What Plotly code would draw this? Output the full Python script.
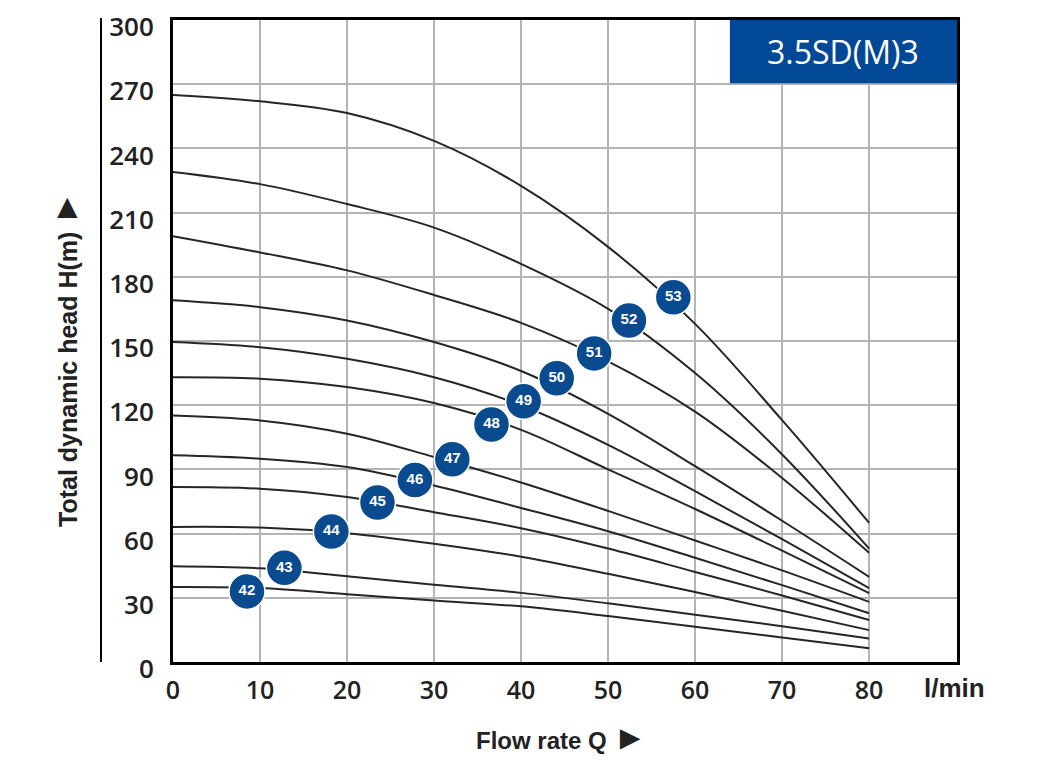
import plotly.graph_objects as go

# Flow rate grid (l/min) at which curve heads were read
flow_q = [0, 10, 20, 30, 40, 50, 60, 70, 80]

# Head (m) for each pump curve, read at flow_q
head_42 = [35.1, 34.6, 31.7, 28.7, 26.0, 21.5, 16.5, 11.5, 6.4]
head_43 = [44.8, 43.8, 40.1, 36.1, 32.3, 27.4, 22.1, 16.7, 11.0]
head_44 = [63.1, 62.8, 60.2, 55.3, 49.2, 41.2, 32.7, 23.9, 14.9]
head_45 = [81.8, 81.0, 77.1, 70.0, 62.5, 53.0, 42.1, 31.1, 19.6]
head_46 = [96.6, 95.0, 91.1, 82.5, 72.0, 61.1, 48.7, 35.9, 22.8]
head_47 = [115.2, 112.9, 106.7, 95.8, 83.9, 70.6, 56.8, 42.8, 28.1]
head_48 = [133.1, 132.4, 128.5, 121.0, 108.5, 90.0, 71.5, 52.0, 32.2]
head_49 = [149.5, 147.1, 141.7, 133.1, 120.0, 101.5, 79.8, 57.4, 34.5]
head_50 = [169.0, 165.8, 159.6, 149.5, 136.0, 116.0, 91.5, 66.0, 39.8]
head_51 = [199.0, 191.4, 183.0, 171.5, 158.5, 140.5, 117.0, 86.0, 51.0]
head_52 = [229.0, 223.3, 214.0, 203.0, 186.0, 165.0, 135.0, 97.0, 53.0]
head_53 = [265.0, 262.0, 256.5, 243.5, 222.5, 194.0, 158.0, 113.0, 65.0]

curves = [head_42, head_43, head_44, head_45, head_46, head_47,
          head_48, head_49, head_50, head_51, head_52, head_53]

# Model badges
badge_labels = ["42", "43", "44", "45", "46", "47", "48", "49", "50", "51", "52", "53"]
badge_q = [8.5, 12.8, 18.2, 23.5, 27.8, 32.1, 36.6, 40.3, 44.1, 48.4, 52.4, 57.5]
badge_h = [33.0, 44.0, 61.0, 74.5, 85.0, 94.7, 111.0, 121.8, 132.6, 144.2, 159.6, 170.4]

x_ticks = [0, 10, 20, 30, 40, 50, 60, 70, 80]
y_ticks = [0, 30, 60, 90, 120, 150, 180, 210, 240, 270, 300]

title_text = "3.5SD(M)3"

fig = go.Figure()
for h in curves:
    fig.add_trace(go.Scatter(
        x=flow_q, y=h, mode="lines",
        line=dict(color="#262626", width=2, shape="spline", smoothing=1.0),
        hoverinfo="skip", showlegend=False))

fig.add_trace(go.Scatter(
    x=badge_q, y=badge_h, mode="markers+text", text=badge_labels,
    textposition="middle center",
    textfont=dict(color="white", size=15, family="Liberation Sans", weight="bold"),
    marker=dict(size=36, color="#0a4a8e", line=dict(color="white", width=1.5)),
    showlegend=False, cliponaxis=False))

# page body has an 8px margin; place the figure so the plot lands where intended
OFF = 8
W, H = 1037 - OFF, 760 - OFF
ml, mt = 173 - OFF, 20 - OFF
pw, ph = 784, 642
mr, mb = W - ml - pw, H - mt - ph

def px2paper_x(p):
    return (p - OFF - ml) / pw

def px2paper_y(p):
    return (mt + ph - (p - OFF)) / ph

x_font = dict(family="Open Sans", size=25, color="#222222", weight=600)
y_font = dict(family="Open Sans", size=26, color="#222222", weight=600)

fig.update_layout(
    width=W, height=H, autosize=False,
    margin=dict(l=ml, r=mr, t=mt, b=mb, autoexpand=False),
    paper_bgcolor="white", plot_bgcolor="white",
    xaxis=dict(range=[0, 90.1], tickvals=x_ticks, ticktext=[str(v) for v in x_ticks],
               showgrid=True, gridcolor="#b4b4b4", gridwidth=1.5,
               showline=True, linecolor="black", linewidth=3, mirror=True,
               zeroline=False, ticks="", tickfont=x_font, ticklabelstandoff=4,
               ticklabeloverflow="allow", automargin=False),
    yaxis=dict(range=[0, 300], tickvals=y_ticks, ticktext=[str(v) for v in y_ticks],
               showgrid=True, gridcolor="#b4b4b4", gridwidth=1.5,
               showline=True, linecolor="black", linewidth=3, mirror=True,
               zeroline=False, ticks="", tickfont=y_font, ticklabelstandoff=11,
               ticklabelshift=7,
               ticklabeloverflow="allow", automargin=False),
    shapes=[
        dict(type="rect", xref="x", yref="y", x0=64, x1=90.1, y0=270.5, y1=300,
             fillcolor="#014896", line=dict(width=0), layer="above"),
        dict(type="line", xref="paper", yref="paper",
             x0=px2paper_x(101), x1=px2paper_x(101), y0=0, y1=px2paper_y(18),
             line=dict(color="black", width=2)),
    ],
    annotations=[
        dict(text=title_text, xref="x", yref="y", x=77.05, y=285.5, showarrow=False,
             font=dict(family="Open Sans", size=32, color="white")),
        dict(text="l/min", xref="paper", yref="paper", x=px2paper_x(954), y=px2paper_y(688),
             showarrow=False, xanchor="center", yanchor="middle",
             font=dict(family="Liberation Sans", size=26, color="#222222", weight="bold")),
        dict(text="Flow rate Q <span style='font-size:34px'>►</span>",
             xref="paper", yref="paper",
             x=px2paper_x(561), y=px2paper_y(737), showarrow=False,
             xanchor="center", yanchor="middle",
             font=dict(family="Liberation Sans", size=24, color="#222222", weight="bold")),
        dict(text="Total dynamic head H(m) <span style='font-size:34px'>►</span>",
             xref="paper", yref="paper",
             x=px2paper_x(65), y=px2paper_y(359), textangle=-90, showarrow=False,
             xanchor="center", yanchor="middle",
             font=dict(family="Liberation Sans", size=25, color="#222222", weight="bold")),
    ],
)

fig.write_html("out.html")
